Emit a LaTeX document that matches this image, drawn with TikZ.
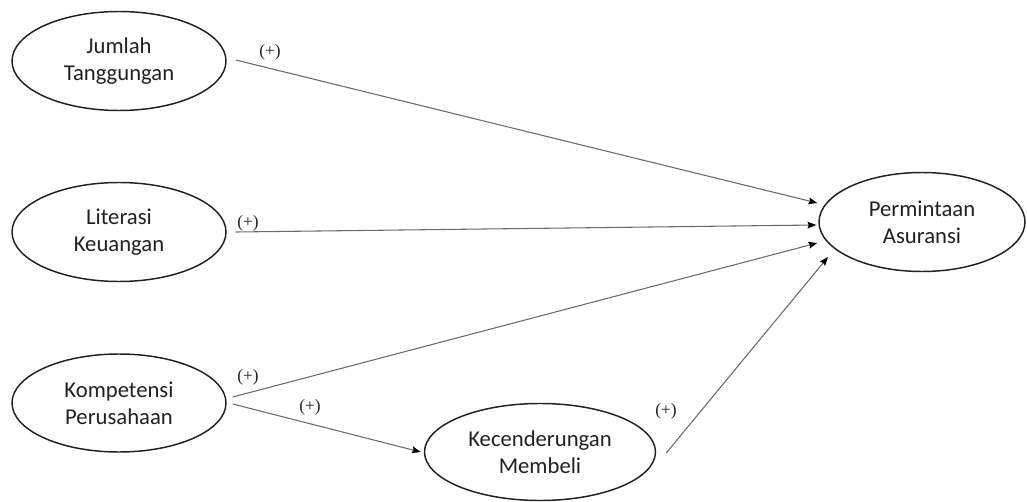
\documentclass[tikz,border=0pt]{standalone}
\usepackage{fontspec}
\setmainfont{Carlito}
\newfontfamily\labfont{Liberation Serif}
\usetikzlibrary{shapes.geometric,arrows.meta,calc}
\definecolor{edgegray}{rgb}{0.42,0.42,0.42}
\definecolor{inkc}{rgb}{0.13,0.13,0.13}
\begin{document}
\begin{tikzpicture}[x=0.75pt,y=-0.75pt,
  varnode/.style={ellipse,draw=inkc,line width=1.1pt,inner sep=0pt,
    align=center,font=\fontsize{17}{20.25}\selectfont,text=inkc},
  arr/.style={draw=edgegray,line width=0.8pt,
    -{Stealth[length=6.5pt,width=5pt,inset=0.8pt,fill=black,color=black]}},
  sign/.style={font=\labfont\fontsize{13}{15}\selectfont,text=inkc,inner sep=0pt}]
\useasboundingbox (0,0) rectangle (1027,502);
\node[varnode,minimum width=214*0.75pt,minimum height=99*0.75pt] (j) at (119,61) {Jumlah\\Tanggungan};
\node[varnode,minimum width=214*0.75pt,minimum height=99*0.75pt] (l) at (119,232) {Literasi\\Keuangan};
\node[varnode,minimum width=214*0.75pt,minimum height=98*0.75pt] (k) at (119,403) {Kompetensi\\Perusahaan};
\node[varnode,minimum width=231*0.75pt,minimum height=97*0.75pt] (m) at (540,452) {Kecenderungan\\Membeli};
\node[varnode,minimum width=206*0.75pt,minimum height=99*0.75pt] (p) at (922,222) {Permintaan\\Asuransi};
\draw[arr] ($(j.east)+(9,-1)$) -- ($(p.west)+(-1,-19)$);
\draw[arr] ($(l.east)+(9,0)$) -- ($(p.west)+(-2,3)$);
\draw[arr] ($(k.east)+(6,-6)$) -- ($(p.west)+(-1,21)$);
\draw[arr] ($(k.east)+(6,1)$) -- ($(m.west)+(-3,0)$);
\draw[arr] ($(m.east)+(10,1)$) -- ($(p.center)+(-94,35)$);
\node[sign] (s1) at (270,52) {(+)};
\node[sign] (s2) at (248,223) {(+)};
\node[sign] (s3) at (248,377) {(+)};
\node[sign] (s4) at (310,407) {(+)};
\node[sign] (s5) at (666,411) {(+)};
\end{tikzpicture}
\end{document}
